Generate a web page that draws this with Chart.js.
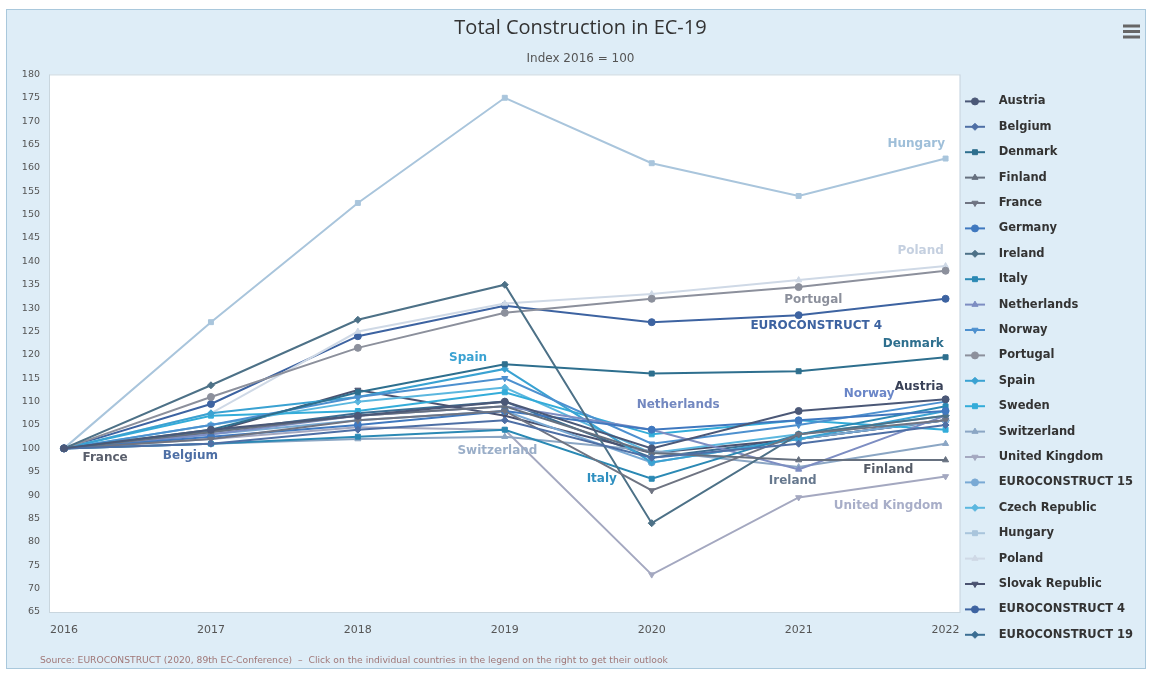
<!DOCTYPE html>
<html lang="en">
<head>
    <meta charset="UTF-8">
    <title>Total Construction in EC-19</title>
    <script src="https://cdn.jsdelivr.net/npm/chart.js"></script>
    <style>
        html, body { margin: 0; padding: 0; background: #fff; }
        #wrap { width: 1150px; height: 673px; }
    </style>
</head>
<body>
    <div id="wrap"><canvas id="constructionChart" width="1150" height="673"></canvas></div>
    <script>
    // categories
    const years = ['2016', '2017', '2018', '2019', '2020', '2021', '2022'];

    // index values, 2016 = 100
    const austria        = [100, 104.0, 107.0, 110.0, 100.0, 108.0, 110.5];
    const belgium        = [100, 101.0, 104.0, 106.0, 98.0, 101.0, 105.0];
    const denmark        = [100, 104.0, 112.0, 118.0, 116.0, 116.5, 119.5];
    const finland        = [100, 103.5, 107.0, 109.0, 99.0, 97.5, 97.5];
    const france         = [100, 102.0, 106.0, 108.0, 91.0, 103.0, 106.0];
    const germany        = [100, 102.5, 105.0, 108.0, 104.0, 106.0, 108.0];
    const ireland        = [100, 113.5, 127.5, 135.0, 84.0, 103.0, 107.0];
    const italy          = [100, 101.0, 102.5, 104.0, 93.5, 103.0, 109.0];
    const netherlands    = [100, 103.0, 107.0, 109.0, 104.0, 95.5, 107.0];
    const norway         = [100, 105.0, 111.0, 115.0, 101.0, 105.0, 110.0];
    const portugal       = [100, 111.0, 121.5, 129.0, 132.0, 134.5, 138.0];
    const spain          = [100, 107.5, 111.0, 117.0, 97.0, 102.0, 108.0];
    const sweden         = [100, 107.0, 108.0, 112.0, 103.0, 106.0, 104.0];
    const switzerland    = [100, 101.0, 102.0, 102.5, 99.5, 96.0, 101.0];
    const unitedKingdom  = [100, 102.0, 104.5, 104.0, 73.0, 89.5, 94.0];
    const euro15         = [100, 103.0, 106.0, 108.0, 97.0, 102.0, 106.0];
    const czechRepublic  = [100, 105.0, 110.0, 113.0, 99.0, 103.0, 107.0];
    const hungary        = [100, 127.0, 152.5, 175.0, 161.0, 154.0, 162.0];
    const poland         = [100, 107.5, 125.0, 131.0, 133.0, 136.0, 139.0];
    const slovakRepublic = [100, 103.5, 112.5, 107.0, 99.0, 102.0, 106.0];
    const euro4          = [100, 109.5, 124.0, 130.5, 127.0, 128.5, 132.0];
    const euro19         = [100, 103.5, 107.5, 110.0, 98.0, 102.0, 106.0];

    const yTicks = [65, 180, 5]; // min, max, step

    const series = [
        ['Austria', austria, '#4b5877'],
        ['Belgium', belgium, '#4e6fa5'],
        ['Denmark', denmark, '#2e6f8e'],
        ['Finland', finland, '#66707f'],
        ['France', france, '#6f7482'],
        ['Germany', germany, '#3f78bf'],
        ['Ireland', ireland, '#4d7187'],
        ['Italy', italy, '#2b89b4'],
        ['Netherlands', netherlands, '#7d8dc2'],
        ['Norway', norway, '#4d90cf'],
        ['Portugal', portugal, '#8c909c'],
        ['Spain', spain, '#3aa2d2'],
        ['Sweden', sweden, '#33acd9'],
        ['Switzerland', switzerland, '#8ba6c4'],
        ['United Kingdom', unitedKingdom, '#a4a8c0'],
        ['EUROCONSTRUCT 15', euro15, '#79a9d4'],
        ['Czech Republic', czechRepublic, '#5bb7df'],
        ['Hungary', hungary, '#a9c5dc'],
        ['Poland', poland, '#cfd9e6'],
        ['Slovak Republic', slovakRepublic, '#4a5270'],
        ['EUROCONSTRUCT 4', euro4, '#3d63a1'],
        ['EUROCONSTRUCT 19', euro19, '#3b6e93']
    ];

    // marker cycle like the original (circle, diamond, square, triangle, triangle-down)
    const markerStyles = ['circle', 'rectRot', 'rect', 'triangle', 'triangle'];
    const markerRotation = [0, 0, 0, 0, 180];

    // in-chart series names: [name, category index, value, colour]
    const seriesLabels = [
        ['France', 0.28, 97.9, '#5a5f6c'],
        ['Belgium', 0.86, 98.5, '#4e6fa5'],
        ['Hungary', 5.80, 165.1, '#9fbfd9'],
        ['Poland', 5.83, 142.2, '#c5d0e0'],
        ['Portugal', 5.10, 131.8, '#8c909c'],
        ['EUROCONSTRUCT 4', 5.12, 126.2, '#3d63a1'],
        ['Denmark', 5.78, 122.4, '#2e6f8e'],
        ['Spain', 2.75, 119.4, '#3aa2d2'],
        ['Austria', 5.82, 113.2, '#3a4258'],
        ['Norway', 5.48, 111.7, '#6a86c8'],
        ['Netherlands', 4.18, 109.4, '#7388c0'],
        ['Switzerland', 2.95, 99.4, '#9aaec8'],
        ['Italy', 3.66, 93.4, '#3090c0'],
        ['Ireland', 4.96, 93.0, '#66788e'],
        ['Finland', 5.61, 95.5, '#555b66'],
        ['United Kingdom', 5.61, 87.6, '#a8aec8']
    ];

    const datasets = series.map(function(s, i) {
        return {
            label: s[0],
            data: s[1],
            borderColor: s[2],
            backgroundColor: s[2],
            borderWidth: 2,
            pointStyle: markerStyles[i % 5],
            pointRotation: markerRotation[i % 5],
            pointRadius: 3.5,
            pointHoverRadius: 5,
            pointBorderWidth: 1,
            tension: 0
        };
    });

    const panelPlugin = {
        id: 'panel',
        beforeDraw(chart) {
            const ctx = chart.ctx;
            const a = chart.chartArea;
            ctx.save();
            ctx.fillStyle = '#ffffff';
            ctx.fillRect(0, 0, chart.width, chart.height);
            ctx.fillStyle = '#deedf7';
            ctx.strokeStyle = '#a9c8dc';
            ctx.lineWidth = 1;
            ctx.fillRect(6, 9, 1140, 660);
            ctx.strokeRect(6.5, 9.5, 1139, 659);
            // white plot box, a bit wider than the data range
            ctx.fillStyle = '#ffffff';
            ctx.strokeStyle = '#c9d6de';
            ctx.fillRect(a.left - 14, a.top, a.right - a.left + 28, a.bottom - a.top);
            ctx.strokeRect(a.left - 14.5, a.top + 0.5, a.right - a.left + 29, a.bottom - a.top);
            // menu icon
            ctx.fillStyle = '#666';
            [26, 31.5, 37].forEach(function(y) { ctx.fillRect(1123, y - 1.5, 17, 3); });
            ctx.restore();
        },
        afterDraw(chart) {
            const ctx = chart.ctx;
            ctx.save();
            ctx.font = '9.2px "DejaVu Sans"';
            ctx.fillStyle = '#a07878';
            ctx.textBaseline = 'middle';
            ctx.fillText('Source: EUROCONSTRUCT (2020, 89th EC-Conference)  \u2013  Click on the individual countries in the legend on the right to get their outlook', 40, 661);
            ctx.restore();
        }
    };

    const labelPlugin = {
        id: 'seriesNames',
        afterDatasetsDraw(chart) {
            const ctx = chart.ctx;
            const xs = chart.scales.x, ys = chart.scales.y;
            ctx.save();
            ctx.font = 'bold 12px "DejaVu Sans"';
            ctx.textAlign = 'center';
            ctx.textBaseline = 'middle';
            seriesLabels.forEach(function(l) {
                const idx = series.findIndex(function(s) { return s[0] === l[0]; });
                if (idx >= 0 && !chart.isDatasetVisible(idx)) return;
                const x = xs.getPixelForValue(0) + l[1] * (xs.getPixelForValue(1) - xs.getPixelForValue(0));
                ctx.fillStyle = l[3];
                ctx.fillText(l[0], x, ys.getPixelForValue(l[2]));
            });
            ctx.restore();
        }
    };

    const legendMarkers = {
        id: 'legendMarkers',
        afterDraw(chart) {
            const lg = chart.legend;
            if (!lg || !lg.legendHitBoxes) return;
            const ctx = chart.ctx;
            ctx.save();
            lg.legendHitBoxes.forEach(function(hb, i) {
                const ds = chart.data.datasets[i];
                const y = hb.top + hb.height / 2;
                const cx = hb.left + 16;
                ctx.globalAlpha = chart.isDatasetVisible(i) ? 1 : 0.3;
                ctx.strokeStyle = ds.borderColor;
                ctx.fillStyle = ds.borderColor;
                ctx.lineWidth = 2;
                ctx.beginPath();
                ctx.moveTo(cx - 10, y);
                ctx.lineTo(cx + 10, y);
                ctx.stroke();
                ctx.lineWidth = 1;
                Chart.helpers.drawPoint(ctx, {
                    pointStyle: ds.pointStyle,
                    rotation: ds.pointRotation,
                    radius: 3.5,
                    borderWidth: 1
                }, cx, y);
            });
            ctx.restore();
        }
    };

    const ctx = document.getElementById('constructionChart').getContext('2d');
    const constructionChart = new Chart(ctx, {
        type: 'line',
        data: { labels: years, datasets: datasets },
        plugins: [panelPlugin, labelPlugin, legendMarkers],
        options: {
            responsive: false,
            animation: false,
            layout: { padding: { left: 18, right: 7, top: 10, bottom: 0 } },
            interaction: { mode: 'nearest', intersect: false },
            scales: {
                x: {
                    offset: false,
                    grid: { display: false, drawTicks: false },
                    border: { display: false },
                    ticks: { color: '#555', font: { family: 'DejaVu Sans', size: 11 }, padding: 12 },
                    afterFit: function(s) { s.height = 61; }
                },
                y: {
                    min: yTicks[0],
                    max: yTicks[1],
                    grid: { display: false, drawTicks: false },
                    border: { display: false },
                    ticks: { stepSize: yTicks[2], color: '#555', font: { family: 'DejaVu Sans', size: 9.5 }, padding: 24 },
                    afterFit: function(s) { s.width = 46; }
                }
            },
            plugins: {
                title: {
                    display: true,
                    text: 'Total Construction in EC-19',
                    color: '#333',
                    font: { family: 'Open Sans', size: 20, weight: 'normal' },
                    padding: { top: 6, bottom: 10 }
                },
                subtitle: {
                    display: true,
                    text: 'Index 2016 = 100',
                    color: '#555',
                    font: { family: 'DejaVu Sans', size: 12 },
                    padding: { top: 2, bottom: 8 }
                },
                legend: {
                    position: 'right',
                    align: 'start',
                    title: {
                        display: true,
                        text: ' ',
                        font: { size: 10 },
                        padding: { top: 30, bottom: 30 }
                    },
                    labels: {
                        boxWidth: 34,
                        boxHeight: 12,
                        padding: 13.4,
                        color: '#333',
                        font: { family: 'DejaVu Sans', size: 11.5, weight: 'bold' },
                        generateLabels: function(chart) {
                            return chart.data.datasets.map(function(ds, i) {
                                return {
                                    text: ds.label,
                                    fillStyle: 'rgba(0,0,0,0)',
                                    strokeStyle: 'rgba(0,0,0,0)',
                                    lineWidth: 0,
                                    hidden: !chart.isDatasetVisible(i),
                                    datasetIndex: i,
                                    fontColor: '#333'
                                };
                            });
                        }
                    }
                },
                tooltip: { enabled: true }
            }
        }
    });
    </script>
</body>
</html>
